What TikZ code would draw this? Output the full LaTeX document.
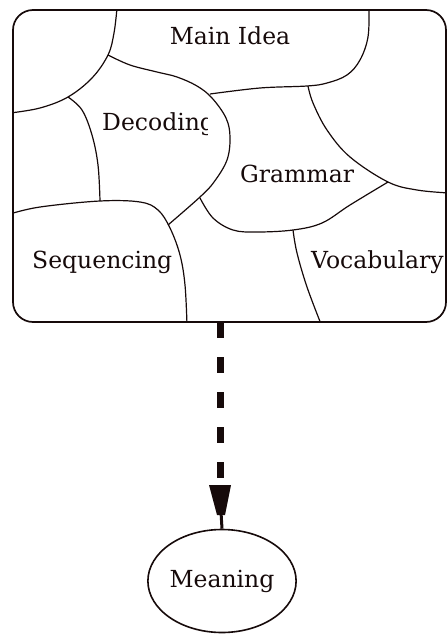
\documentclass[tikz,border=0pt]{standalone}
\usepackage{fontspec}
\setmainfont{DejaVu Serif}
\usetikzlibrary{shapes.geometric}
\definecolor{inkc}{RGB}{22,10,10}
\begin{document}
\begin{tikzpicture}[x=1pt,y=-1pt,
  curve/.style={draw=inkc, line width=1.2pt},
  frame/.style={draw=inkc, line width=1.7pt, rounded corners=20pt},
  lbl/.style={font=\fontsize{23.5}{27}\selectfont, text=inkc, anchor=base west, inner sep=0pt},
  dashline/.style={draw=inkc, line width=7pt, dash pattern=on 16pt off 19pt},
  bubble/.style={ellipse, draw=inkc, line width=1.6pt, minimum width=137pt, minimum height=103pt, inner sep=0pt, font=\fontsize{23.5}{27}\selectfont, text=inkc}]
\useasboundingbox (0,0) rectangle (447,635);
\begin{scope}
  \clip[rounded corners=20pt] (13,10) rectangle (446,322);
  % region borders
  \draw[curve] plot[smooth, tension=0.6] coordinates {(117,8) (114,33) (108,55) (92,78) (68,97) (40,108) (10,113)};
  \draw[curve] plot[smooth, tension=0.6] coordinates {(108,55) (130,65) (157,72) (177,77) (197,86) (212,98) (226,118) (230,137) (227,160) (214,182) (200,197) (168,225)};
  \draw[curve] plot[smooth, tension=0.6] coordinates {(68,97) (82,110) (92,135) (98,165) (100,201)};
  \draw[curve] plot[smooth, tension=0.6] coordinates {(10,214) (40,207) (100,201) (140,202) (158,210) (170,228) (180,255) (185,285) (187,325)};
  \draw[curve] plot[smooth, tension=0.6] coordinates {(369,8) (368,37) (360,60) (347,75) (327,83) (307,86) (260,88) (210,94)};
  \draw[curve] plot[smooth, tension=0.6] coordinates {(308,86) (313,103) (327,130) (350,157) (388,182) (417,190) (449,193)};
  \draw[curve] plot[smooth, tension=0.6] coordinates {(200,198) (213,218) (233,230) (257,232) (293,230) (322,223) (350,205) (388,182)};
  \draw[curve] plot[smooth, tension=0.6] coordinates {(293,230) (297,253) (307,287) (321,324)};
  % labels
  \node[lbl, anchor=base] (mainidea) at (230,44) {Main Idea};
  \begin{scope}
    \clip (90,90) rectangle (207,150);
    \node[lbl] (decoding) at (102,130) {Decoding};
  \end{scope}
  \node[lbl] (grammar) at (240,182) {Grammar};
  \node[lbl] (sequencing) at (32,268) {Sequencing};
  \node[lbl] (vocabulary) at (311,268) {Vocabulary};
\end{scope}
\draw[frame] (13,10) rectangle (446,322);
% arrow to Meaning
\node[bubble] (meaning) at (222,581) {Meaning};
\coordinate (src) at (220,322);
\coordinate (dashend) at (220,478);
\draw[dashline] (src) -- (dashend);
\fill[inkc] (209,485) -- (231,485) -- (225,515) -- (217,515) -- cycle;
\draw[draw=inkc, line width=3pt] (221,512) -- (meaning.north);
\end{tikzpicture}
\end{document}
